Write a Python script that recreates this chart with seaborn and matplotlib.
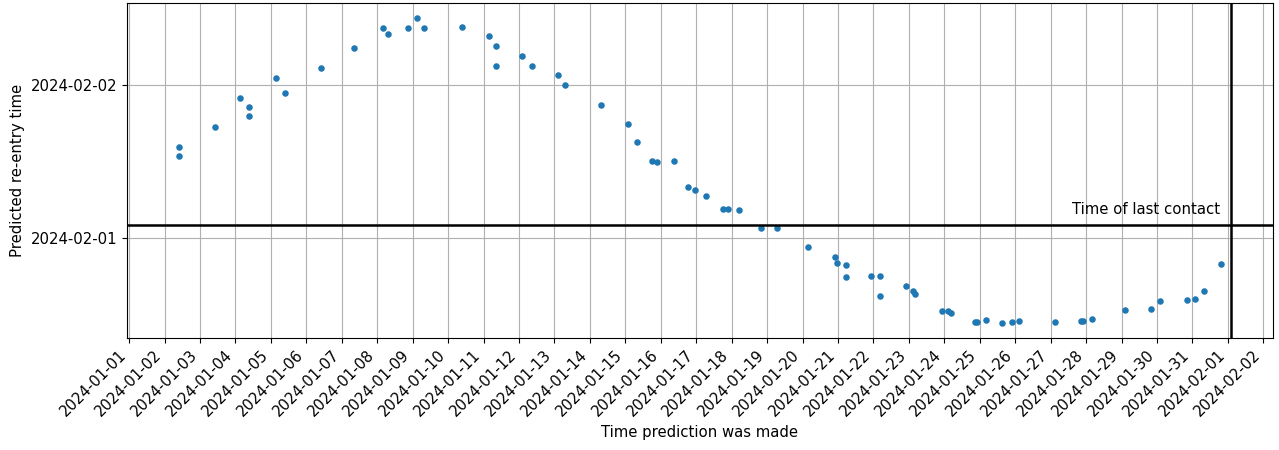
import matplotlib
matplotlib.use("Agg")
import matplotlib.pyplot as plt
import matplotlib.dates as mdates
import pandas as pd
import seaborn as sns

# When each re-entry prediction was issued
prediction_made = [
    "2024-01-02 09:51", "2024-01-02 09:51", "2024-01-03 10:12", "2024-01-04 02:54",
    "2024-01-04 09:00", "2024-01-04 09:00", "2024-01-05 03:18", "2024-01-05 09:24",
    "2024-01-06 09:48", "2024-01-07 08:30", "2024-01-08 04:12", "2024-01-08 07:06",
    "2024-01-08 20:42", "2024-01-09 02:48", "2024-01-09 07:30", "2024-01-10 09:24",
    "2024-01-11 03:42", "2024-01-11 08:30", "2024-01-11 08:30", "2024-01-12 02:18",
    "2024-01-12 08:36", "2024-01-13 02:36", "2024-01-13 07:12", "2024-01-14 07:18",
    "2024-01-15 01:36", "2024-01-15 07:42", "2024-01-15 18:06", "2024-01-15 21:30",
    "2024-01-16 09:12", "2024-01-16 18:24", "2024-01-16 23:00", "2024-01-17 06:24",
    "2024-01-17 18:18", "2024-01-17 21:30", "2024-01-18 05:00", "2024-01-18 20:06",
    "2024-01-19 06:42", "2024-01-20 03:54", "2024-01-20 22:00", "2024-01-20 23:18",
    "2024-01-21 05:24", "2024-01-21 05:24", "2024-01-21 22:06", "2024-01-22 04:12",
    "2024-01-22 04:12", "2024-01-22 22:12", "2024-01-23 02:36", "2024-01-23 04:06",
    "2024-01-23 22:24", "2024-01-24 02:30", "2024-01-24 04:18", "2024-01-24 20:30",
    "2024-01-24 22:06", "2024-01-25 04:00", "2024-01-25 14:48", "2024-01-25 22:00",
    "2024-01-26 02:30", "2024-01-27 02:42", "2024-01-27 20:30", "2024-01-27 22:06",
    "2024-01-28 03:54", "2024-01-29 02:18", "2024-01-29 20:06", "2024-01-30 02:00",
    "2024-01-30 20:06", "2024-01-31 01:54", "2024-01-31 07:48", "2024-01-31 19:18",
]

# Predicted re-entry time for each issued prediction
predicted_reentry = [
    "2024-02-01 14:20", "2024-02-01 12:50", "2024-02-01 17:23", "2024-02-01 21:58",
    "2024-02-01 20:31", "2024-02-01 19:06", "2024-02-02 01:02", "2024-02-01 22:41",
    "2024-02-02 02:39", "2024-02-02 05:42", "2024-02-02 08:49", "2024-02-02 07:53",
    "2024-02-02 08:53", "2024-02-02 10:23", "2024-02-02 08:51", "2024-02-02 09:05",
    "2024-02-02 07:32", "2024-02-02 06:01", "2024-02-02 02:58", "2024-02-02 04:27",
    "2024-02-02 02:54", "2024-02-02 01:27", "2024-02-01 23:56", "2024-02-01 20:53",
    "2024-02-01 17:52", "2024-02-01 14:58", "2024-02-01 12:03", "2024-02-01 11:51",
    "2024-02-01 12:03", "2024-02-01 07:57", "2024-02-01 07:29", "2024-02-01 06:35",
    "2024-02-01 04:34", "2024-02-01 04:31", "2024-02-01 04:27", "2024-02-01 01:34",
    "2024-02-01 01:39", "2024-01-31 22:36", "2024-01-31 21:05", "2024-01-31 20:06",
    "2024-01-31 19:48", "2024-01-31 18:01", "2024-01-31 18:10", "2024-01-31 18:07",
    "2024-01-31 15:03", "2024-01-31 16:37", "2024-01-31 15:41", "2024-01-31 15:13",
    "2024-01-31 12:37", "2024-01-31 12:37", "2024-01-31 12:22", "2024-01-31 10:51",
    "2024-01-31 10:55", "2024-01-31 11:10", "2024-01-31 10:48", "2024-01-31 10:57",
    "2024-01-31 11:00", "2024-01-31 10:57", "2024-01-31 11:07", "2024-01-31 11:07",
    "2024-01-31 11:19", "2024-01-31 12:50", "2024-01-31 12:59", "2024-01-31 14:11",
    "2024-01-31 14:20", "2024-01-31 14:30", "2024-01-31 15:47", "2024-01-31 19:57",
]

last_contact = "2024-02-01 02:00"
last_contact_label = "Time of last contact"

df = pd.DataFrame({
    "made": pd.to_datetime(prediction_made),
    "reentry": pd.to_datetime(predicted_reentry),
})
contact = pd.Timestamp(last_contact)

FS = 10.7

fig, ax = plt.subplots(figsize=(12.79, 4.5), dpi=100)
fig.subplots_adjust(left=0.0993, right=0.9953, top=0.9933, bottom=0.249)

sns.scatterplot(data=df, x="made", y="reentry", ax=ax, s=22,
                color="#1f77b4", linewidth=0, zorder=3)

ax.axhline(contact, color="black", linewidth=1.8, zorder=4)
ax.axvline(contact, color="black", linewidth=1.8, zorder=4)
ax.annotate(last_contact_label, xy=(mdates.date2num(contact), mdates.date2num(contact)),
            xytext=(-8, 6), textcoords="offset points",
            ha="right", va="bottom", fontsize=FS)

day_fmt = mdates.DateFormatter("%Y-%m-%d")
ax.xaxis.set_major_locator(mdates.DayLocator())
ax.xaxis.set_major_formatter(day_fmt)
ax.yaxis.set_major_locator(mdates.DayLocator())
ax.yaxis.set_major_formatter(day_fmt)
plt.setp(ax.get_xticklabels(), rotation=45, ha="right", rotation_mode="default")

ax.tick_params(labelsize=FS)
ax.grid(True, color="#b0b0b0", linewidth=0.8)
ax.set_axisbelow(True)
ax.set_xlabel("Time prediction was made", fontsize=FS)
ax.set_ylabel("Predicted re-entry time", fontsize=FS)

fig.savefig("out.png", dpi=100)
